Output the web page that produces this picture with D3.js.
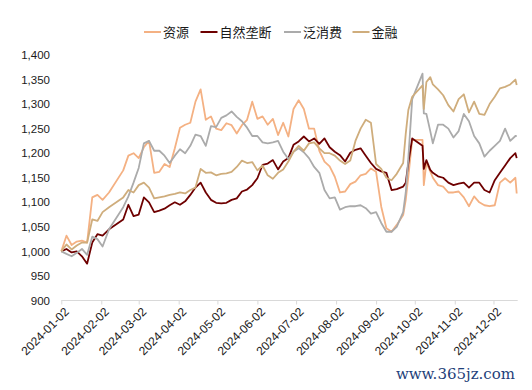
<!DOCTYPE html>
<html><head><meta charset="utf-8">
<script src="https://cdn.jsdelivr.net/npm/d3@7"></script>
<style>
body{margin:0;background:#fff;}
svg{display:block;font-family:"Liberation Sans",Arial,sans-serif;}
</style>
</head><body>
<svg id="chart" width="532" height="390"></svg>
<script>
const dates = ["2024-01-02","2024-01-06","2024-01-10","2024-01-14","2024-01-18","2024-01-22","2024-01-26","2024-01-30",
"2024-02-03","2024-02-08","2024-02-19","2024-02-23","2024-02-27","2024-03-02","2024-03-06","2024-03-10","2024-03-14",
"2024-03-18","2024-03-22","2024-03-26","2024-03-30","2024-04-03","2024-04-07","2024-04-11","2024-04-15","2024-04-19",
"2024-04-23","2024-04-27","2024-05-01","2024-05-05","2024-05-09","2024-05-13","2024-05-17","2024-05-21","2024-05-25",
"2024-05-29","2024-06-02","2024-06-06","2024-06-10","2024-06-14","2024-06-18","2024-06-22","2024-06-26","2024-06-30",
"2024-07-04","2024-07-08","2024-07-12","2024-07-16","2024-07-20","2024-07-24","2024-07-28","2024-08-01","2024-08-05",
"2024-08-09","2024-08-13","2024-08-17","2024-08-21","2024-08-25","2024-08-29","2024-09-02","2024-09-06","2024-09-10",
"2024-09-14","2024-09-18","2024-09-23","2024-09-25","2024-09-27","2024-09-30","2024-10-08","2024-10-09","2024-10-11",
"2024-10-14","2024-10-16","2024-10-20","2024-10-24","2024-10-28","2024-11-01","2024-11-05","2024-11-09","2024-11-13",
"2024-11-17","2024-11-21","2024-11-25","2024-11-29","2024-12-03","2024-12-07","2024-12-11","2024-12-15","2024-12-19","2024-12-20"];

const seriesNames = ["资源","自然垄断","泛消费","金融"];

const resources = [1000,1032,1013,1020,1022,1018,1110,1115,1105,1120,1165,1195,1200,1190,1212,1225,1160,
1162,1178,1172,1210,1252,1258,1262,1305,1330,1268,1275,1250,1247,1261,1257,1240,1257,1268,
1305,1270,1275,1258,1270,1237,1262,1234,1290,1308,1290,1250,1250,1205,1183,1173,1152,1120,
1122,1137,1142,1155,1158,1169,1162,1091,1047,1040,1054,1074,1105,1152,1227,1227,1135,1180,
1163,1150,1135,1132,1120,1120,1122,1110,1092,1112,1100,1094,1092,1094,1140,1149,1140,1150,1118];

const monopoly = [1000,1005,998,1000,990,975,1018,1035,1032,1045,1065,1095,1072,1075,1110,1100,1080,
1083,1087,1094,1100,1095,1102,1115,1130,1140,1120,1105,1099,1098,1099,1105,1108,1122,1126,
1135,1149,1176,1179,1186,1167,1183,1190,1217,1224,1234,1224,1230,1219,1230,1212,1203,1196,
1183,1201,1207,1210,1195,1180,1168,1163,1160,1125,1127,1132,1140,1180,1230,1215,1168,1186,
1166,1160,1153,1150,1140,1135,1138,1140,1130,1140,1140,1125,1120,1145,1160,1175,1190,1200,1190];

const consumption = [1000,995,990,997,1005,993,1030,1025,1010,1045,1090,1112,1140,1170,1220,1225,1205,
1205,1195,1180,1195,1208,1200,1215,1238,1235,1215,1255,1253,1272,1277,1285,1274,1265,1252,
1235,1235,1222,1220,1222,1225,1203,1188,1203,1210,1202,1190,1172,1160,1125,1108,1110,1085,
1090,1092,1092,1094,1088,1077,1080,1058,1040,1040,1050,1080,1120,1190,1310,1362,1281,1280,
1245,1220,1258,1258,1250,1232,1245,1280,1265,1235,1220,1193,1205,1215,1225,1250,1225,1235,1235];

const finance = [1000,1014,1004,1012,1018,1018,1065,1062,1080,1090,1110,1125,1120,1135,1140,1130,1108,
1110,1112,1115,1117,1120,1118,1125,1130,1168,1160,1161,1155,1158,1159,1162,1172,1185,1180,
1182,1165,1175,1155,1148,1160,1167,1183,1203,1215,1205,1220,1222,1210,1200,1200,1195,1185,
1178,1185,1225,1250,1268,1262,1178,1168,1150,1145,1158,1180,1240,1288,1315,1338,1290,1345,
1355,1340,1330,1318,1298,1285,1310,1320,1283,1305,1280,1278,1300,1315,1332,1335,1340,1350,1339];

const colors = ["#F4B183","#6E0000","#ABABAB","#CFAD7C"];
const yTicks = [900,950,1000,1050,1100,1150,1200,1250,1300,1350,1400];
const xTickLabels = ["2024-01-02","2024-02-02","2024-03-02","2024-04-02","2024-05-02","2024-06-02",
"2024-07-02","2024-08-02","2024-09-02","2024-10-02","2024-11-02","2024-12-02"];

const parse = d3.timeParse("%Y-%m-%d");
const xDates = dates.map(parse);
const allSeries = [resources, monopoly, consumption, finance];

const svg = d3.select("#chart");
const plotL = 61.3, plotR = 516.7, plotT = 55, plotB = 300.5;

const x = d3.scaleTime().domain([xDates[0], xDates[xDates.length-1]]).range([plotL, plotR]);
const y = d3.scaleLinear().domain([900, 1400]).range([plotB, plotT]);

// y labels
const yAxis = d3.axisLeft(y).tickValues(yTicks).tickSize(0).tickPadding(0)
  .tickFormat(d3.format(","));
const gy = svg.append("g").attr("transform", "translate(50,0)").call(yAxis);
gy.select(".domain").remove();
gy.selectAll("text").attr("font-size", 11.5).attr("fill", "#1a1a1a")
  .attr("font-family", "'Liberation Sans', Arial, sans-serif");

// x axis
const xAxis = d3.axisBottom(x).tickValues(xTickLabels.map(parse)).tickSize(4)
  .tickFormat(d3.timeFormat("%Y-%m-%d"));
const gx = svg.append("g").attr("transform", `translate(0,${plotB})`).call(xAxis);
gx.select(".domain").attr("stroke", "#D9D9D9").attr("d", `M${plotL},0H${plotR+1}`);
gx.selectAll(".tick line").attr("stroke", "#D9D9D9");
gx.selectAll("text").attr("font-size", 12).attr("fill", "#1a1a1a")
  .attr("font-family", "'Liberation Sans', Arial, sans-serif")
  .attr("text-anchor", "end")
  .attr("transform", "translate(5,9) rotate(-45)")
  .attr("dy", "0.35em").attr("y", 0).attr("x", 0);

// lines
const line = d3.line().x((d, i) => x(xDates[i])).y(d => y(d));
allSeries.forEach((s, k) => {
  svg.append("path").datum(s).attr("d", line).attr("fill", "none")
    .attr("stroke", colors[k]).attr("stroke-width", 1.8).attr("stroke-linejoin", "round");
});

// legend
const legendX = [144, 200.5, 284, 352.5];
const leg = svg.append("g");
seriesNames.forEach((n, k) => {
  leg.append("line").attr("x1", legendX[k]).attr("x2", legendX[k] + 17)
    .attr("y1", 32).attr("y2", 32).attr("stroke", colors[k]).attr("stroke-width", 2);
  leg.append("text").attr("x", legendX[k] + 19).attr("y", 32).attr("dy", "0.36em")
    .attr("font-size", 13).attr("fill", "#1a1a1a")
    .attr("font-family", "'Noto Sans CJK SC', sans-serif").text(n);
});

// watermark
svg.append("text").attr("x", 515).attr("y", 379).attr("text-anchor", "end")
  .attr("font-family", "'DejaVu Serif', serif").attr("font-size", 15)
  .attr("fill", "#1F3F7A").text("www.365jz.com");
</script>
</body></html>
